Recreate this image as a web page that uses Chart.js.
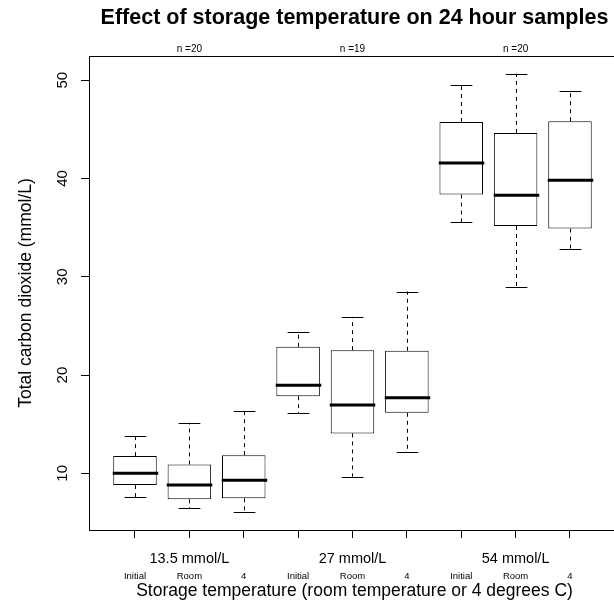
<!DOCTYPE html>
<html>
<head>
<meta charset="utf-8">
<title>Effect of storage temperature on 24 hour samples</title>
<script src="https://cdn.jsdelivr.net/npm/chart.js@4.4.1/dist/chart.umd.min.js"></script>
<style>
  html, body { margin: 0; padding: 0; background: #fff; overflow: hidden; }
  canvas { display: block; }
</style>
</head>
<body>
<canvas id="boxChart" width="630" height="608"></canvas>
<script>
// Data (mmol/L)
const concentrations = ['13.5 mmol/L', '27 mmol/L', '54 mmol/L'];
const sampleCounts = [20, 19, 20];
const storageLabels = ['Initial', 'Room', '4', 'Initial', 'Room', '4', 'Initial', 'Room', '4'];

const lowerWhisker = [7.55, 6.46, 6.02, 16.1, 9.64, 12.16, 35.55, 29.0, 32.81];
const lowerQuartile = [8.8, 7.35, 7.45, 17.85, 14.06, 16.16, 38.37, 35.18, 34.91];
const medians = [10.0, 8.8, 9.3, 18.97, 16.94, 17.68, 41.59, 38.3, 39.83];
const upperQuartile = [11.75, 10.9, 11.85, 22.87, 22.53, 22.47, 45.76, 44.64, 45.83];
const upperWhisker = [13.75, 15.14, 16.36, 24.36, 25.92, 28.5, 49.56, 50.68, 48.88];

const yTickValues = [10, 20, 30, 40, 50];

const FONT = '"Liberation Sans", Arial, Helvetica, sans-serif';
Chart.defaults.font.family = FONT;
Chart.defaults.color = '#000';

// Whiskers, medians, frame and extra labels drawn on top of the boxes
const boxplotExtras = {
  id: 'boxplotExtras',
  afterDatasetsDraw(chart) {
    const { ctx, chartArea, scales: { x, y } } = chart;
    const half = x.getPixelForValue(1.4) - x.getPixelForValue(1);
    const cap = x.getPixelForValue(1.2) - x.getPixelForValue(1);

    ctx.save();
    ctx.strokeStyle = '#000';

    medians.forEach((m, i) => {
      const cx = Math.round(x.getPixelForValue(i + 1)) + 0.5;
      const yLo = y.getPixelForValue(lowerWhisker[i]);
      const yQ1 = y.getPixelForValue(lowerQuartile[i]);
      const yQ3 = y.getPixelForValue(upperQuartile[i]);
      const yHi = y.getPixelForValue(upperWhisker[i]);

      // dashed whiskers
      ctx.lineWidth = 1;
      ctx.setLineDash([4, 4]);
      ctx.beginPath();
      ctx.moveTo(cx, yQ3);
      ctx.lineTo(cx, yHi);
      ctx.moveTo(cx, yQ1);
      ctx.lineTo(cx, yLo);
      ctx.stroke();

      // staples
      ctx.setLineDash([]);
      ctx.beginPath();
      ctx.moveTo(cx - cap, Math.round(yHi) + 0.5);
      ctx.lineTo(cx + cap, Math.round(yHi) + 0.5);
      ctx.moveTo(cx - cap, Math.round(yLo) + 0.5);
      ctx.lineTo(cx + cap, Math.round(yLo) + 0.5);
      ctx.stroke();

      // median
      const yM = y.getPixelForValue(m);
      ctx.lineWidth = 3;
      ctx.beginPath();
      ctx.moveTo(cx - half - 1, yM);
      ctx.lineTo(cx + half + 1, yM);
      ctx.stroke();
    });

    // plot frame
    ctx.lineWidth = 1;
    ctx.strokeRect(Math.round(chartArea.left) + 0.5, Math.round(chartArea.top) + 0.5,
      Math.round(chartArea.right - chartArea.left), Math.round(chartArea.bottom - chartArea.top));

    // y tick labels, rotated like R
    ctx.fillStyle = '#000';
    ctx.font = '15px ' + FONT;
    ctx.textAlign = 'center';
    ctx.textBaseline = 'alphabetic';
    yTickValues.forEach(v => {
      ctx.save();
      ctx.translate(chartArea.left - 22, y.getPixelForValue(v));
      ctx.rotate(-Math.PI / 2);
      ctx.fillText(String(v), 0, 0);
      ctx.restore();
    });

    // sample sizes above and concentration labels below
    concentrations.forEach((label, g) => {
      const gx = x.getPixelForValue(g * 3 + 2);
      ctx.font = '10px ' + FONT;
      ctx.fillText('n =' + sampleCounts[g], gx, chartArea.top - 4);
      ctx.font = '14.5px ' + FONT;
      ctx.fillText(label, gx, chartArea.bottom + 33);
    });
    ctx.restore();
  }
};

new Chart(document.getElementById('boxChart'), {
  type: 'bar',
  data: {
    datasets: [{
      data: medians.map((_, i) => ({ x: i + 1, y: [lowerQuartile[i], upperQuartile[i]] })),
      backgroundColor: '#fff',
      borderColor: '#000',
      borderWidth: 1,
      borderSkipped: false,
      categoryPercentage: 1,
      barPercentage: 0.8
    }]
  },
  options: {
    responsive: false,
    animation: false,
    layout: { padding: { right: 10 } },
    plugins: {
      legend: { display: false },
      tooltip: { enabled: false },
      title: {
        display: true,
        fullSize: false,
        text: 'Effect of storage temperature on 24 hour samples',
        color: '#000',
        font: { size: 21.5, weight: 'bold' },
        padding: { top: 5.5, bottom: 24.7 }
      }
    },
    scales: {
      x: {
        type: 'linear',
        min: 0.154,
        max: 9.92,
        offset: false,
        afterBuildTicks: scale => {
          scale.ticks = storageLabels.map((_, i) => ({ value: i + 1 }));
        },
        afterFit: scale => { scale.height = 78; },
        ticks: {
          autoSkip: false,
          maxRotation: 0,
          padding: 33,
          font: { size: 9.5 },
          callback: (value) => storageLabels[value - 1]
        },
        grid: { drawOnChartArea: false, offset: false, tickLength: 8, color: '#000' },
        border: { color: '#000' },
        title: {
          display: true,
          text: 'Storage temperature (room temperature or 4 degrees C)',
          font: { size: 17.5 },
          padding: { top: 0, bottom: 6.5 }
        }
      },
      y: {
        min: 4.23,
        max: 52.47,
        afterBuildTicks: scale => {
          scale.ticks = yTickValues.map(v => ({ value: v }));
        },
        afterFit: scale => { scale.width = 89; },
        ticks: { display: false },
        grid: { drawOnChartArea: false, tickLength: 8, color: '#000' },
        border: { color: '#000' },
        title: {
          display: true,
          text: 'Total carbon dioxide (mmol/L)',
          font: { size: 17.5 },
          padding: { top: 15.5, bottom: 0 }
        }
      }
    }
  },
  plugins: [boxplotExtras]
});
</script>
</body>
</html>
